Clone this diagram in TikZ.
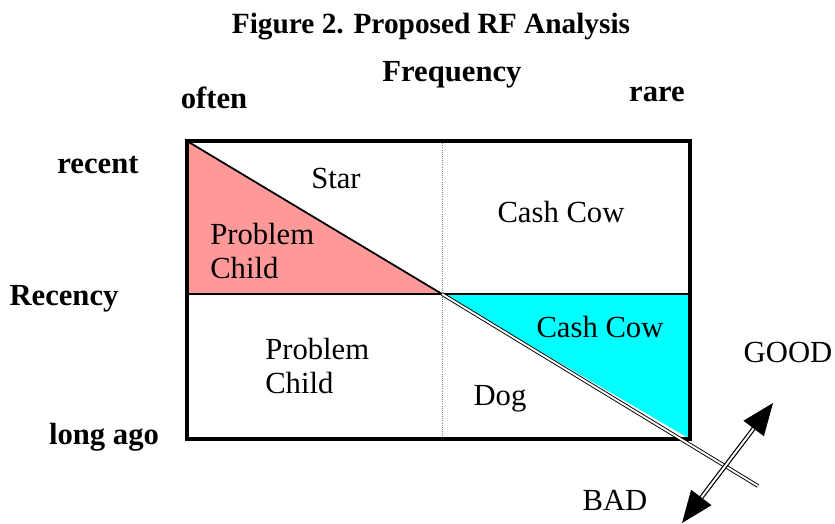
\documentclass[tikz,border=0pt]{standalone}
\usepackage{fontspec}
\setmainfont{Liberation Serif}
\usetikzlibrary{arrows.meta}
\definecolor{pinkfill}{RGB}{255,153,153}
\definecolor{cyanfill}{RGB}{0,255,255}

\begin{document}
\begin{tikzpicture}[x=0.75pt,y=0.75pt,yscale=-1,xscale=1,
  lbl/.style={inner sep=0.75pt,font=\fontsize{23}{25.5}\selectfont},
  hdr/.style={inner sep=0.75pt,font=\fontsize{23}{25.5}\selectfont\bfseries},
  dbl/.style={double,double distance=1.4pt,line width=0.6pt}]
\useasboundingbox (0,0) rectangle (835,524);

% Corners
\coordinate (tl) at (187,141);
\coordinate (tr) at (690,141);
\coordinate (bl) at (187,439);
\coordinate (br) at (690,439);
\coordinate (ml) at (187,294);
\coordinate (mr) at (690,294);
\coordinate (mt) at (442,141);
\coordinate (mb) at (442,439);
\coordinate (mid) at (442,294);
\coordinate (tail) at (758,486);
\coordinate (bad) at (682,523);
\coordinate (good) at (773,403);

% Triangles
\fill [pinkfill] (tl) -- (mid) -- (ml) -- cycle;
\fill [cyanfill] (mid) -- (mr) -- (br) -- cycle;

% Grid
\draw [gray,densely dotted,line width=0.6pt] (mt) -- (mb) ;
\draw [line width=1pt] (ml) -- (mr) ;
\draw [line width=2.6pt] (tl) -- (tr) -- (br) -- (bl) -- cycle;

% Diagonals
\draw [line width=1.3pt] (tl) -- (mid) ;
\draw [dbl,line width=0.7pt] (mid) -- (tail) ;

% Arrow
\draw [dbl,line width=0.9pt,double distance=1.5pt,{Triangle[length=24pt,width=19pt]}-{Triangle[length=24pt,width=19pt]}] (bad) -- (good) ;

% Text Node
\node [hdr,font=\fontsize{22}{25}\selectfont\bfseries] (title) at (431,27) {Figure 2. Proposed RF Analysis};
% Text Node
\node [hdr] (freq) at (452,75) {Frequency};
% Text Node
\node [hdr] (often) at (214,98) {often};
% Text Node
\node [hdr] (rare) at (657,94) {rare};
% Text Node
\node [hdr] (recent) at (98,165) {recent};
% Text Node
\node [hdr] (recency) at (64,299) {Recency};
% Text Node
\node [hdr] (longago) at (104,437) {long ago};
% Text Node
\node [lbl] (star) at (336,178) {Star};
% Text Node
\node [lbl] (cowtop) at (561,212) {Cash Cow};
% Text Node
\node [lbl,anchor=north west,align=left] (probtop) at (209,222) {Problem\\Child};
% Text Node
\node [lbl,anchor=north west,align=left] (probbot) at (264,337) {Problem\\Child};
% Text Node
\node [lbl] (cowbot) at (600,327) {Cash Cow};
% Text Node
\node [lbl] (dog) at (500,399) {Dog};
% Text Node
\node [lbl] (goodtxt) at (788,352) {GOOD};
% Text Node
\node [lbl] (badtxt) at (615,500) {BAD};

\end{tikzpicture}
\end{document}
